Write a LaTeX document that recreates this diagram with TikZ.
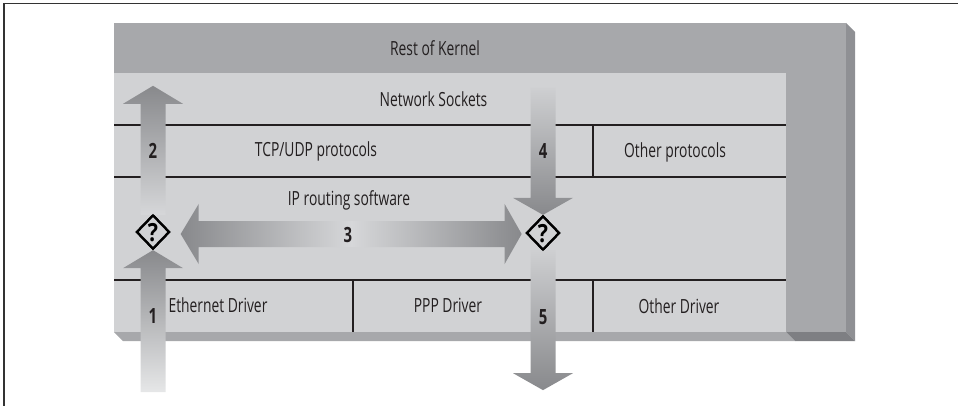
\documentclass[tikz,border=0pt]{standalone}
\usepackage{fontspec}
\setmainfont{Open Sans}[FakeStretch=0.71]
\newfontfamily\qfont{Open Sans}[FakeStretch=0.85]
\usetikzlibrary{shapes.geometric,calc}
\definecolor{midgray}{HTML}{A7A8AB}
\definecolor{lightpanel}{HTML}{D1D2D4}
\definecolor{bevelgray}{HTML}{8F9094}
\definecolor{darkbevel}{HTML}{7E7F83}
\definecolor{linecol}{HTML}{231F20}
\definecolor{arrdark}{HTML}{88898C}
\definecolor{arrlight}{HTML}{D6D7D9}
\definecolor{arrpale}{HTML}{E6E7E8}
\definecolor{framecol}{HTML}{333333}
\tikzset{
  lbl/.style={anchor=base, inner sep=0pt, font=\fontsize{19.5}{20}\selectfont, text=linecol},
  num/.style={anchor=base, inner sep=0pt, font=\fontsize{21}{21}\selectfont\bfseries, text=linecol},
  decide/.style={diamond, draw=black, line width=2.3pt, fill=lightpanel, minimum width=33pt, minimum height=34pt, inner sep=0pt},
  qmark/.style={anchor=center, inner sep=0pt, text=black},
  divider/.style={draw=linecol, line width=1.2pt},
}
\begin{document}
\begin{tikzpicture}[x=1pt,y=-1pt]
\useasboundingbox (0,0) rectangle (958,406);
% frame
\draw[framecol, line width=1.5pt] (4,406) -- (4,3.5) -- (958,3.5);
% kernel slab
\fill[midgray] (114,23) rectangle (846,332);
\fill[bevelgray] (846,23) -- (855,32) -- (855,341) -- (846,332) -- cycle;
\fill[midgray] (114,332) -- (786,332) -- (795,341) -- (123,341) -- cycle;
\fill[darkbevel] (786,332) -- (846,332) -- (855,341) -- (795,341) -- cycle;
\fill[lightpanel] (114,73) rectangle (786,332);
% dividers
\draw[divider] (114,125) -- (786,125);
\draw[divider] (114,177) -- (786,177);
\draw[divider] (114,280) -- (786,280);
\draw[divider] (593,125) -- (593,177);
\draw[divider] (353,280) -- (353,332);
\draw[divider] (593,280) -- (593,332);
% labels
\node[lbl] (rk) at (435,56) {Rest of Kernel};
\node[lbl] (ns) at (433.5,107) {Network Sockets};
\node[lbl] (tcp) at (316,157) {TCP/UDP protocols};
\node[lbl] (op) at (675,158) {Other protocols};
\node[lbl] (ip) at (349,206) {IP routing software};
\node[lbl] (eth) at (218,312) {Ethernet Driver};
\node[lbl] (ppp) at (448,312) {PPP Driver};
\node[lbl] (od) at (679,313) {Other Driver};
% decision diamonds (placement)
\coordinate (c1) at (153,232);
\coordinate (c2) at (543,233);
\node[decide] (d1) at (c1) {};
\node[decide] (d2) at (c2) {};
% arrow 1 (up into d1)
\shade[top color=arrdark, bottom color=arrpale]
  (d1.south) -- ++(30,18) -- ++(-17.5,0) -- ++(0,124) -- ++(-25,0) -- ++(0,-124) -- ++(-17.5,0) -- cycle;
% arrow 2 (up from d1)
\shade[top color=arrdark, bottom color=arrlight]
  ($(d1.north)+(-12.5,1)$) -- ++(0,-111) -- ++(-17.5,0) -- ++(30,-18) -- ++(30,18) -- ++(-17.5,0) -- ++(0,111) -- cycle;
% arrow 3 (double, d1 <-> d2)
\shade[left color=arrdark, right color=arrdark, middle color=arrlight]
  ($(d1.east)+(10,2)$) -- ++(18,-30) -- ++(0,17) -- ++(306,0) -- ++(0,-17) -- ++(17,30) -- ++(-17,30) -- ++(0,-17) -- ++(-306,0) -- ++(0,17) -- cycle;
% arrow 4 (down into d2)
\shade[top color=arrlight!90!arrdark, bottom color=arrdark]
  (d2.north) -- ++(-30,-17) -- ++(17.5,0) -- ++(0,-110) -- ++(25,0) -- ++(0,110) -- ++(17.5,0) -- cycle;
% arrow 5 (down from d2)
\shade[top color=arrlight!90!arrdark, bottom color=arrdark]
  ($(d2.south)+(-12.5,-1)$) -- ++(0,123) -- ++(-17.5,0) -- ++(30,17) -- ++(30,-17) -- ++(-17.5,0) -- ++(0,-123) -- cycle;
% diamonds on top
\node[decide] (e1) at (c1) {};
\node[decide] (e2) at (c2) {};
\node[qmark] (q1) at ($(c1)+(0,0.5)$) {\qfont\fontsize{25}{25}\selectfont\bfseries ?};
\node[qmark] (q2) at ($(c2)+(0,0.5)$) {\qfont\fontsize{25}{25}\selectfont\bfseries ?};
% numbers
\node[num] (n1) at (153,323) {1};
\node[num] (n2) at (153,159) {2};
\node[num] (n3) at (348,242) {3};
\node[num] (n4) at (543,159) {4};
\node[num] (n5) at (543,324) {5};
\end{tikzpicture}
\end{document}
